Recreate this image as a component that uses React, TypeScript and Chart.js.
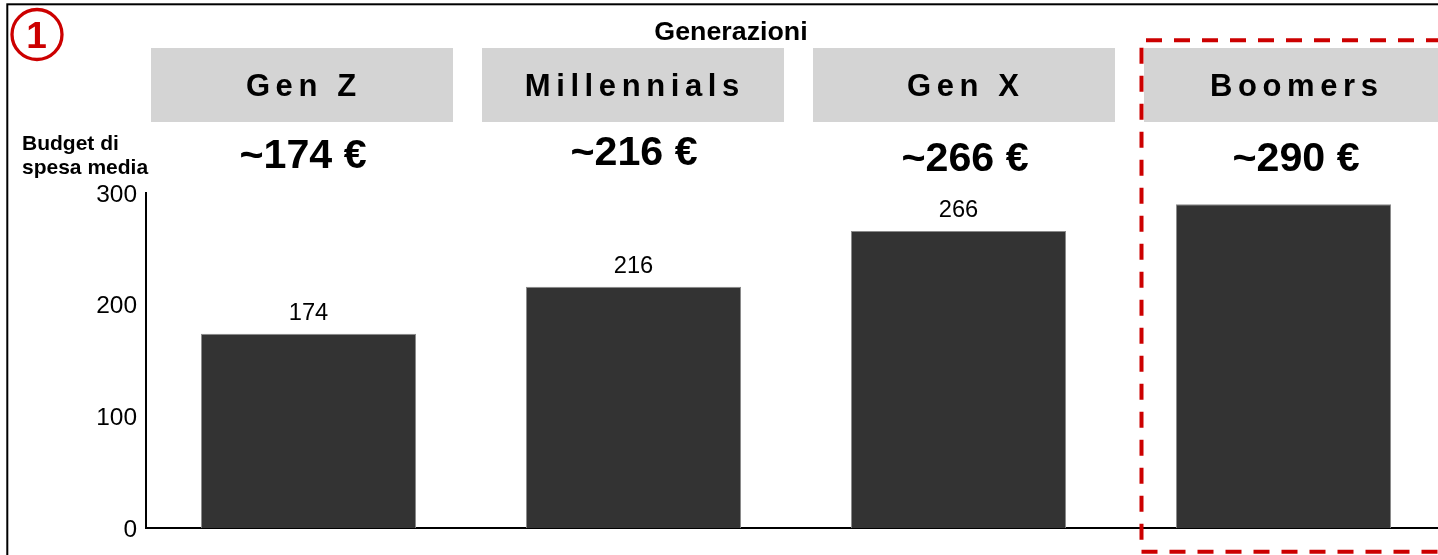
import { useEffect, useRef } from "react";
import { Chart, registerables } from "chart.js";

Chart.register(...registerables);

// ---------- data ----------
const categories = ["Gen Z", "Millennials", "Gen X", "Boomers"];
const budgetValues = [174, 216, 266, 290];
const barLabelShown = [true, true, true, false];
const yTicks = [0, 100, 200, 300];
const chartTitle = "Generazioni";
const yAxisTitle = ["Budget di", "spesa media"];
const badgeText = "1";
const highlightedIndex = 3;

// ---------- layout / style ----------
const CANVAS_W = 1460;
const CANVAS_H = 560;
const FONT = "'Liberation Sans', Arial, Helvetica, sans-serif";
const HEADER_X0 = 151;
const HEADER_STEP = 331;
const HEADER_W = 302;
const HEADER_TOP = 48;
const HEADER_H = 74;
const VALUE_BASELINES = [168, 165, 171, 171];
const RED = "#cc0000";

function drawText(
  ctx: CanvasRenderingContext2D,
  text: string,
  x: number,
  y: number,
  font: string,
  sx: number,
  align: "left" | "center" | "right",
  ls = 0
) {
  ctx.save();
  ctx.font = font;
  ctx.textBaseline = "alphabetic";
  ctx.textAlign = "left";
  (ctx as any).letterSpacing = "0px";
  const base = ctx.measureText(text).width;
  const ink = base + ls * (text.length - 1);
  (ctx as any).letterSpacing = ls + "px";
  ctx.translate(x, y);
  ctx.scale(sx, 1);
  const start = align === "center" ? -ink / 2 : align === "right" ? -ink : 0;
  ctx.fillStyle = "#000";
  ctx.fillText(text, start, 0);
  ctx.restore();
}

const decorPlugin = {
  id: "decor",
  afterDraw(chart: any) {
    const ctx: CanvasRenderingContext2D = chart.ctx;
    ctx.save();

    // outer frame
    ctx.strokeStyle = "#000";
    ctx.lineWidth = 2;
    ctx.strokeRect(7.3, 4.3, 1600, 800);

    // badge
    ctx.strokeStyle = RED;
    ctx.lineWidth = 3.3;
    ctx.beginPath();
    ctx.arc(37, 34.5, 25, 0, Math.PI * 2);
    ctx.stroke();
    ctx.save();
    ctx.font = `bold 37px ${FONT}`;
    ctx.fillStyle = RED;
    ctx.textAlign = "center";
    ctx.textBaseline = "alphabetic";
    ctx.fillText(badgeText, 36.5, 48);
    ctx.restore();

    // title
    drawText(ctx, chartTitle, 731, 39.5, `bold 26px ${FONT}`, 1.03, "center");

    // header boxes, names, values
    categories.forEach((name, i) => {
      const bx = HEADER_X0 + i * HEADER_STEP;
      const cx = bx + HEADER_W / 2;
      ctx.fillStyle = "#d4d4d4";
      ctx.fillRect(bx, HEADER_TOP, HEADER_W, HEADER_H);
      drawText(ctx, name, cx - 1, 95.5, `bold 31px ${FONT}`, 1, "center", 5.6);
      drawText(ctx, `~${budgetValues[i]} €`, cx + 1, VALUE_BASELINES[i], `bold 40px ${FONT}`, 1.03, "center");
    });

    // y axis title
    drawText(ctx, yAxisTitle[0], 22, 149.5, `bold 21px ${FONT}`, 1, "left");
    drawText(ctx, yAxisTitle[1], 22, 174, `bold 21px ${FONT}`, 1, "left");

    // y tick labels
    const ys = chart.scales.y;
    ys.ticks.forEach((t: any) => {
      const py = ys.getPixelForValue(t.value);
      drawText(ctx, String(t.value), 137, py + 8.5, `24px ${FONT}`, 1.02, "right");
    });

    // bar value labels
    const meta = chart.getDatasetMeta(0);
    meta.data.forEach((bar: any, i: number) => {
      if (!barLabelShown[i]) return;
      drawText(ctx, String(budgetValues[i]), bar.x, bar.y - 14, `23px ${FONT}`, 1.03, "center");
    });

    // highlight dashed frame
    const hx = HEADER_X0 + highlightedIndex * HEADER_STEP - 2.5;
    ctx.strokeStyle = RED;
    ctx.lineWidth = 4;
    ctx.setLineDash([16, 12]);
    ctx.beginPath();
    ctx.moveTo(1470, 40.3);
    ctx.lineTo(hx, 40.3);
    ctx.lineTo(hx, 551.8);
    ctx.lineTo(1470, 551.8);
    ctx.stroke();
    ctx.setLineDash([]);

    ctx.restore();
  },
};

export default function App() {
  const canvasRef = useRef<HTMLCanvasElement | null>(null);

  useEffect(() => {
    const canvas = canvasRef.current;
    if (!canvas) return;
    const chart = new Chart(canvas, {
      type: "bar",
      data: {
        labels: categories,
        datasets: [
          {
            data: budgetValues,
            backgroundColor: "#333333",
            borderColor: "#8a8a8a",
            borderWidth: 1,
            categoryPercentage: 1,
            barPercentage: 0.662,
          },
        ],
      },
      options: {
        responsive: false,
        animation: false,
        devicePixelRatio: 1,
        layout: { padding: { left: 0, top: 193, right: CANVAS_W - 1446, bottom: CANVAS_H - 528 } },
        plugins: {
          legend: { display: false },
          tooltip: { enabled: false },
          title: { display: false },
        },
        scales: {
          x: {
            type: "category",
            offset: true,
            grid: { display: false, drawTicks: false },
            ticks: { display: false },
            border: { display: true, color: "#000", width: 2 },
            afterFit: (s: any) => {
              s.height = 0;
            },
          },
          y: {
            min: 0,
            max: 300,
            grid: { display: false, drawTicks: false },
            ticks: { display: false },
            border: { display: true, color: "#000", width: 2 },
            afterFit: (s: any) => {
              s.width = 146;
            },
            afterBuildTicks: (s: any) => {
              s.ticks = yTicks.map((v) => ({ value: v }));
            },
          },
        },
      } as any,
      plugins: [decorPlugin],
    });
    return () => chart.destroy();
  }, []);

  return (
    <div
      style={{
        position: "fixed",
        left: 0,
        top: 0,
        width: 1438,
        height: 555,
        overflow: "hidden",
        background: "#fff",
      }}
    >
      <canvas ref={canvasRef} width={CANVAS_W} height={CANVAS_H} style={{ display: "block" }} />
    </div>
  );
}
